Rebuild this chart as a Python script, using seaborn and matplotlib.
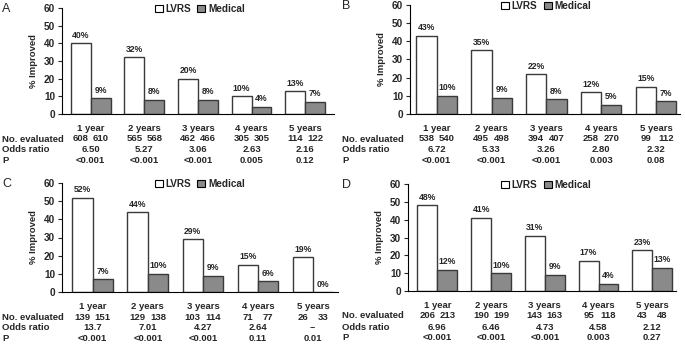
import matplotlib
matplotlib.use("Agg")
import matplotlib.pyplot as plt
import seaborn as sns
import pandas as pd
from matplotlib.patches import Patch

sns.set_style("white")
plt.rcParams['font.family'] = ['Liberation Sans', 'DejaVu Sans']

years = ['1 year', '2 years', '3 years', '4 years', '5 years']
groups = ['LVRS', 'Medical']

# panel A
a_lvrs = [40, 32, 20, 10, 13]
a_med = [9, 8, 8, 4, 7]
a_n_lvrs = [608, 565, 462, 305, 114]
a_n_med = [610, 568, 466, 305, 122]
a_or = ['6.50', '5.27', '3.06', '2.63', '2.16']
a_p = ['<0.001', '<0.001', '<0.001', '0.005', '0.12']

# panel B
b_lvrs = [43, 35, 22, 12, 15]
b_med = [10, 9, 8, 5, 7]
b_n_lvrs = [538, 495, 394, 258, 99]
b_n_med = [540, 498, 407, 270, 112]
b_or = ['6.72', '5.33', '3.26', '2.80', '2.32']
b_p = ['<0.001', '<0.001', '<0.001', '0.003', '0.08']

# panel C
c_lvrs = [52, 44, 29, 15, 19]
c_med = [7, 10, 9, 6, 0]
c_n_lvrs = [139, 129, 103, 71, 26]
c_n_med = [151, 138, 114, 77, 33]
c_or = ['13.7', '7.01', '4.27', '2.64', '--']
c_p = ['<0.001', '<0.001', '<0.001', '0.11', '0.01']

# panel D
d_lvrs = [48, 41, 31, 17, 23]
d_med = [12, 10, 9, 4, 13]
d_n_lvrs = [206, 190, 143, 95, 43]
d_n_med = [213, 199, 163, 118, 48]
d_or = ['6.96', '6.46', '4.73', '4.58', '2.12']
d_p = ['<0.001', '<0.001', '<0.001', '0.003', '0.27']

W, H = 685, 344
fig = plt.figure(figsize=(W / 100, H / 100), dpi=100)

# (letter, lvrs, med, nl, nm, or, p, left, right, top, bottom, first centre, spacing) in px
panels = [
    ('A', a_lvrs, a_med, a_n_lvrs, a_n_med, a_or, a_p, 62, 334, 8, 114, 90.7, 53.6),
    ('B', b_lvrs, b_med, b_n_lvrs, b_n_med, b_or, b_p, 410, 680, 5, 114, 436.7, 54.8),
    ('C', c_lvrs, c_med, c_n_lvrs, c_n_med, c_or, c_p, 62, 338, 183, 292, 92.7, 55.1),
    ('D', d_lvrs, d_med, d_n_lvrs, d_n_med, d_or, d_p, 408, 676, 184, 291, 437.3, 53.75),
]

colors = {'LVRS': 'white', 'Medical': '#8a8a8a'}
edge = '#3a3a3a'
bw = 0.74
row_off = [14.5, 25, 36, 46.5]
tfont = dict(family=['Liberation Sans Narrow', 'Liberation Sans'], fontsize=6.8, fontweight='bold')

for (letter, lv, md, nl, nm, odds, pv, l, r, t, b, c0, sp) in panels:
    ax = fig.add_axes([l / W, 1 - b / H, (r - l) / W, (b - t) / H])
    df = pd.DataFrame({'year': years * 2,
                       'group': ['LVRS'] * 5 + ['Medical'] * 5,
                       'pct': lv + md})
    sns.barplot(data=df, x='year', y='pct', hue='group', order=years, hue_order=groups,
                palette=colors, width=bw, saturation=1, edgecolor=edge, linewidth=1,
                ax=ax, legend=False)
    for cont in ax.containers:
        ax.bar_label(cont, labels=[f'{int(v.get_height())}%' for v in cont],
                     padding=2.5, fontsize=6.2, fontweight='bold')
    ax.set_ylim(0, 60)
    ax.set_yticks(range(0, 61, 10))
    ax.set_xlim((l - c0) / sp, (r - c0) / sp)
    ax.set_xticks([])
    ax.set_xlabel('')
    ax.set_ylabel('% Improved', fontsize=6.8, fontweight='bold', labelpad=4)
    ax.tick_params(axis='y', left=True, length=3, width=0.8, pad=2, labelsize=7.2)
    for lab in ax.get_yticklabels():
        lab.set_fontweight('bold')
    sns.despine(ax=ax)
    for side in ['left', 'bottom']:
        ax.spines[side].set_color('black')
        ax.spines[side].set_linewidth(0.8)

    # table under the bars
    xf = ax.get_xaxis_transform()
    for i in range(5):
        cells = [(i, years[i], 0), (i - bw / 4, str(nl[i]), 1), (i + bw / 4, str(nm[i]), 1),
                 (i, odds[i], 2), (i, pv[i], 3)]
        for x, s, row in cells:
            ax.annotate(s, xy=(x, 0), xycoords=xf, xytext=(0, -row_off[row]),
                        textcoords='offset pixels', ha='center', va='center', **tfont)

    x0 = 2 if l < 300 else 342
    for name, off in zip(['No. evaluated', 'Odds ratio', 'P'], row_off[1:]):
        fig.text(x0 / W, 1 - (b + off) / H, name, ha='left', va='center', **tfont)
    fig.text(x0 / W, 1 - (t + 1) / H, letter, ha='left', va='center', fontsize=9)

    handles = [Patch(facecolor=colors[g], edgecolor='black', linewidth=0.8, label=g) for g in groups]
    leg_x = 200 if l < 300 else 546
    fig.legend(handles=handles, loc='center', bbox_to_anchor=(leg_x / W, 1 - (t + 1) / H),
               ncol=2, frameon=False, handlelength=0.8, handleheight=0.8,
               handletextpad=0.3, columnspacing=0.6, borderpad=0,
               prop={'size': 7.2, 'weight': 'bold'})

fig.savefig('out.png', dpi=100)
